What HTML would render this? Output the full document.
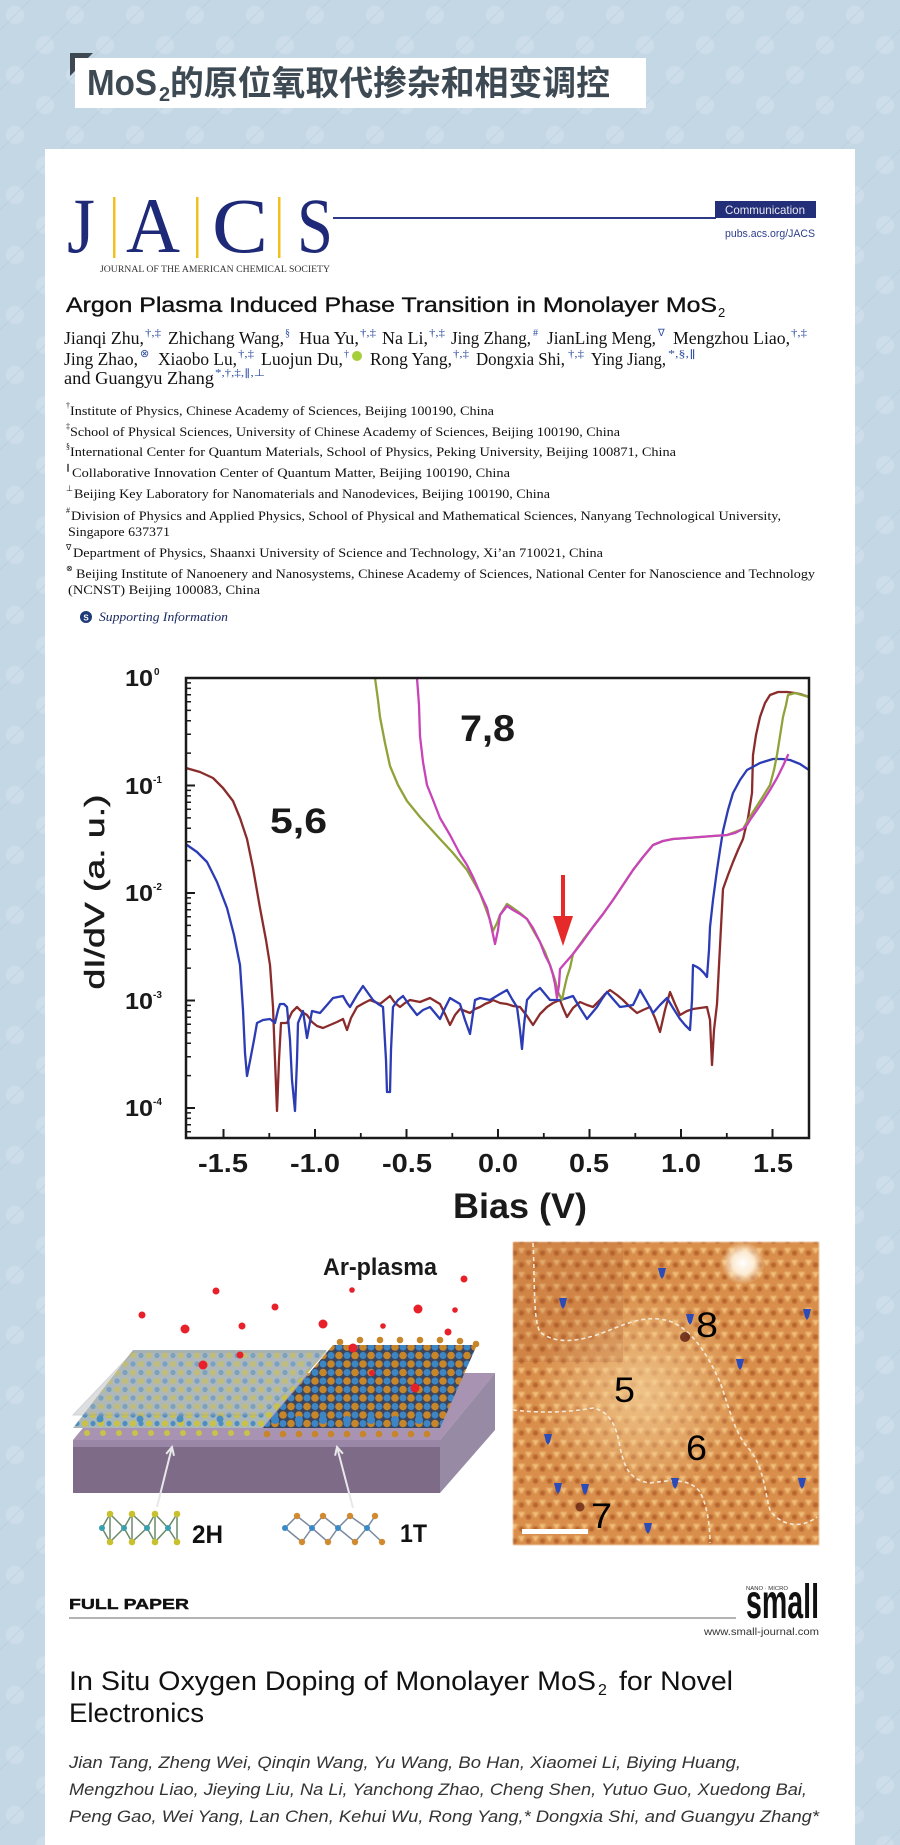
<!DOCTYPE html>
<html><head><meta charset="utf-8"><style>
html,body{margin:0;padding:0;background:#c4d7e5;}
svg{display:block;}
.s{font-family:"Liberation Sans",sans-serif;}
.sf{font-family:"Liberation Serif",serif;}
</style></head><body>
<svg width="900" height="1845" viewBox="0 0 900 1845" xmlns="http://www.w3.org/2000/svg">
<defs>
<pattern id="bg" width="60" height="60" patternUnits="userSpaceOnUse">
<rect width="60" height="60" fill="#c4d7e5"/>
<circle cx="15" cy="15" r="9" fill="#d3e2ed" opacity="0.6"/>
<circle cx="45" cy="45" r="9" fill="#d3e2ed" opacity="0.6"/>
<path d="M0 30 L30 0 M30 60 L60 30" stroke="#b6cbdb" stroke-width="1" opacity="0.6"/>
</pattern>
<pattern id="stm" width="14" height="24" patternUnits="userSpaceOnUse">
<rect width="14" height="24" fill="#d98f4c"/>
<polygon points="0,0 7,0 3.5,6" fill="#f0bd78"/>
<polygon points="7,12 14,12 10.5,18" fill="#f0bd78"/>
<circle cx="10.5" cy="5" r="2.8" fill="#b8662e"/>
<circle cx="3.5" cy="17" r="2.8" fill="#b8662e"/>
</pattern>
<radialGradient id="stmLight" cx="0.42" cy="0.5" r="0.35">
<stop offset="0" stop-color="#f6d49c" stop-opacity="0.75"/>
<stop offset="1" stop-color="#f6d49c" stop-opacity="0"/>
</radialGradient>
<radialGradient id="spot" cx="0.5" cy="0.5" r="0.5">
<stop offset="0" stop-color="#ffffff"/>
<stop offset="0.5" stop-color="#fff4e0" stop-opacity="0.9"/>
<stop offset="1" stop-color="#fbe3c0" stop-opacity="0"/>
</radialGradient>
<pattern id="lat2h" width="16" height="17" patternUnits="userSpaceOnUse" patternTransform="translate(73,1428)">
<rect width="16" height="17" fill="#a9b7b8"/>
<circle cx="4" cy="4" r="3.2" fill="#c9c24a"/>
<circle cx="12" cy="12.5" r="3.2" fill="#c9c24a"/>
<circle cx="12" cy="4" r="2.6" fill="#4a8fc0"/>
<circle cx="4" cy="12.5" r="2.6" fill="#4a8fc0"/>
</pattern>
<pattern id="lat1t" width="16" height="17" patternUnits="userSpaceOnUse" patternTransform="translate(263,1428)">
<rect width="16" height="17" fill="#3a4560"/>
<circle cx="4" cy="4" r="3.8" fill="#c8862a"/>
<circle cx="12" cy="12.5" r="3.8" fill="#c8862a"/>
<circle cx="12" cy="4" r="3.5" fill="#3d86c6"/>
<circle cx="4" cy="12.5" r="3.5" fill="#3d86c6"/>
</pattern>
<clipPath id="plotclip"><rect x="186" y="678" width="623" height="460"/></clipPath>
<filter id="blur1"><feGaussianBlur stdDeviation="0.8"/></filter>
</defs>

<!-- page background -->
<rect width="900" height="1845" fill="url(#bg)"/>

<!-- banner -->
<polygon points="70,53 93,53 70,76" fill="#3d4850"/>
<rect x="75" y="58" width="571" height="50" fill="#ffffff"/>
<text x="87" y="95" class="s" font-size="36" font-weight="bold" fill="#3e4a53" textLength="70" lengthAdjust="spacingAndGlyphs">MoS</text>
<text x="159" y="101" class="s" font-size="20" font-weight="bold" fill="#3e4a53">2</text>
<text x="170" y="95" font-family="'Liberation Sans','Noto Sans CJK SC',sans-serif" font-size="34" font-weight="bold" fill="#3e4a53" textLength="440" lengthAdjust="spacingAndGlyphs">的原位氧取代掺杂和相变调控</text>

<!-- white card -->
<rect x="45" y="149" width="810" height="1700" fill="#ffffff"/>

<!-- JACS logo -->
<g class="sf" font-size="78" fill="#1e2a78">
<text x="67" y="252" textLength="28" lengthAdjust="spacingAndGlyphs">J</text>
<text x="126" y="252" textLength="54" lengthAdjust="spacingAndGlyphs">A</text>
<text x="212" y="252" textLength="56" lengthAdjust="spacingAndGlyphs">C</text>
<text x="297" y="252" textLength="36" lengthAdjust="spacingAndGlyphs">S</text>
</g>
<rect x="113" y="197" width="2.5" height="61" fill="#f0c020"/>
<rect x="196" y="197" width="2.5" height="61" fill="#f0c020"/>
<rect x="278" y="197" width="2.5" height="61" fill="#f0c020"/>
<text x="100" y="272" class="sf" font-size="9.5" fill="#333" textLength="230" lengthAdjust="spacingAndGlyphs">JOURNAL OF THE AMERICAN CHEMICAL SOCIETY</text>
<line x1="333" y1="218" x2="716" y2="218" stroke="#2e3a85" stroke-width="2"/>
<rect x="715" y="201" width="101" height="17" fill="#232f78"/>
<text x="725" y="214" class="s" font-size="12" fill="#e8e8f0" textLength="80" lengthAdjust="spacingAndGlyphs">Communication</text>
<text x="725" y="237" class="s" font-size="11" fill="#2d3f8e" textLength="90" lengthAdjust="spacingAndGlyphs">pubs.acs.org/JACS</text>

<!-- Title -->
<text x="66" y="312" class="s" font-size="21" fill="#111" stroke="#111" stroke-width="0.35" textLength="651" lengthAdjust="spacingAndGlyphs">Argon Plasma Induced Phase Transition in Monolayer MoS</text>
<text x="718" y="317" class="s" font-size="13" fill="#111">2</text>

<!-- Authors -->
<g class="sf" font-size="18" fill="#111">
<text x="64" y="344" textLength="80" lengthAdjust="spacingAndGlyphs">Jianqi Zhu,</text>
<text x="168" y="344" textLength="116" lengthAdjust="spacingAndGlyphs">Zhichang Wang,</text>
<text x="299" y="344" textLength="60" lengthAdjust="spacingAndGlyphs">Hua Yu,</text>
<text x="382" y="344" textLength="46" lengthAdjust="spacingAndGlyphs">Na Li,</text>
<text x="451" y="344" textLength="80" lengthAdjust="spacingAndGlyphs">Jing Zhang,</text>
<text x="547" y="344" textLength="109" lengthAdjust="spacingAndGlyphs">JianLing Meng,</text>
<text x="673" y="344" textLength="117" lengthAdjust="spacingAndGlyphs">Mengzhou Liao,</text>
<text x="64" y="365" textLength="74" lengthAdjust="spacingAndGlyphs">Jing Zhao,</text>
<text x="158" y="365" textLength="79" lengthAdjust="spacingAndGlyphs">Xiaobo Lu,</text>
<text x="261" y="365" textLength="82" lengthAdjust="spacingAndGlyphs">Luojun Du,</text>
<text x="370" y="365" textLength="82" lengthAdjust="spacingAndGlyphs">Rong Yang,</text>
<text x="476" y="365" textLength="89" lengthAdjust="spacingAndGlyphs">Dongxia Shi,</text>
<text x="591" y="365" textLength="75" lengthAdjust="spacingAndGlyphs">Ying Jiang,</text>
<text x="64" y="384" textLength="150" lengthAdjust="spacingAndGlyphs">and Guangyu Zhang</text>
</g>
<g class="sf" font-size="10" fill="#2f4fa0">
<text x="145" y="336" textLength="16" lengthAdjust="spacingAndGlyphs">†,‡</text>
<text x="285" y="336">§</text>
<text x="360" y="336" textLength="16" lengthAdjust="spacingAndGlyphs">†,‡</text>
<text x="429" y="336" textLength="16" lengthAdjust="spacingAndGlyphs">†,‡</text>
<text x="533" y="336">#</text>
<text x="658" y="336">∇</text>
<text x="791" y="336" textLength="16" lengthAdjust="spacingAndGlyphs">†,‡</text>
<text x="140" y="357" font-size="11">⊗</text>
<text x="238" y="357" textLength="16" lengthAdjust="spacingAndGlyphs">†,‡</text>
<text x="344" y="357">†</text>
<text x="453" y="357" textLength="16" lengthAdjust="spacingAndGlyphs">†,‡</text>
<text x="568" y="357" textLength="16" lengthAdjust="spacingAndGlyphs">†,‡</text>
<text x="668" y="357" textLength="28" lengthAdjust="spacingAndGlyphs">*,§,∥</text>
<text x="215" y="376" textLength="50" lengthAdjust="spacingAndGlyphs">*,†,‡,∥,⊥</text>
</g>
<circle cx="357" cy="356" r="5" fill="#a6ce39"/>

<!-- Affiliations -->
<g class="sf" font-size="12.5" fill="#111">
<text x="70" y="415" textLength="424" lengthAdjust="spacingAndGlyphs">Institute of Physics, Chinese Academy of Sciences, Beijing 100190, China</text>
<text x="70" y="436" textLength="550" lengthAdjust="spacingAndGlyphs">School of Physical Sciences, University of Chinese Academy of Sciences, Beijing 100190, China</text>
<text x="70" y="456" textLength="606" lengthAdjust="spacingAndGlyphs">International Center for Quantum Materials, School of Physics, Peking University, Beijing 100871, China</text>
<text x="72" y="477" textLength="438" lengthAdjust="spacingAndGlyphs">Collaborative Innovation Center of Quantum Matter, Beijing 100190, China</text>
<text x="74" y="498" textLength="476" lengthAdjust="spacingAndGlyphs">Beijing Key Laboratory for Nanomaterials and Nanodevices, Beijing 100190, China</text>
<text x="71" y="520" textLength="710" lengthAdjust="spacingAndGlyphs">Division of Physics and Applied Physics, School of Physical and Mathematical Sciences, Nanyang Technological University,</text>
<text x="68" y="536" textLength="102" lengthAdjust="spacingAndGlyphs">Singapore 637371</text>
<text x="73" y="557" textLength="530" lengthAdjust="spacingAndGlyphs">Department of Physics, Shaanxi University of Science and Technology, Xi’an 710021, China</text>
<text x="76" y="578" textLength="739" lengthAdjust="spacingAndGlyphs">Beijing Institute of Nanoenery and Nanosystems, Chinese Academy of Sciences, National Center for Nanoscience and Technology</text>
<text x="68" y="594" textLength="192" lengthAdjust="spacingAndGlyphs">(NCNST) Beijing 100083, China</text>
</g>
<g class="sf" font-size="8" fill="#111">
<text x="66" y="408">†</text>
<text x="66" y="429">‡</text>
<text x="66" y="449">§</text>
<text x="66" y="470">∥</text>
<text x="66" y="491">⊥</text>
<text x="66" y="513">#</text>
<text x="66" y="550">∇</text>
<text x="66" y="571">⊗</text>
</g>
<circle cx="86" cy="617" r="6" fill="#1e3a78"/>
<text x="86" y="620.5" class="s" font-size="8" font-weight="bold" fill="#fff" text-anchor="middle">S</text>
<text x="99" y="621" class="sf" font-size="12.5" font-style="italic" fill="#1a2a60" textLength="129" lengthAdjust="spacingAndGlyphs">Supporting Information</text>

<!-- ============ CHART ============ -->
<g clip-path="url(#plotclip)" fill="none" stroke-width="2.3" stroke-linejoin="round" stroke-linecap="round">
<polyline stroke="#8a2c2c" points="186,768 200,772 213,778 223,788 233,801 240,818 247,839 253,868 260,908 266,940 270,965 273,1007 275,1060 277,1111 279,1060 281,1023 287,1023 292,1012 297,1007 302,1012 307,1015 312,1022 317,1026 323,1028 330,1025 337,1022 343,1019 347,1030 351,1018 357,1007 364,1003 370,1000 375,1002 380,1004 385,1000 390,996 395,1003 400,1007 405,1003 410,1000 415,1001 420,1002 425,1000 430,998 435,1001 440,1004 445,1014 450,1025 455,1015 460,1009 465,1011 470,1013 475,1009 480,1007 485,1004 490,1002 493,1000 500,1003 507,1004 513,1006 520,1007 527,1016 533,1025 540,1014 547,1007 553,1003 560,1000 563,1008 567,1017 573,1008 580,1002 587,1005 593,1007 600,1000 605,994 610,990 617,995 623,1000 630,1007 637,1013 643,1010 650,1007 655,1018 660,1032 665,1010 670,992 675,1004 680,1015 687,1011 693,1009 700,1008 707,1007 710,1020 712,1065 714,1030 717,1004 720,946 723,889 728,875 733,862 738,850 743,839 748,818 752,793 753,755 756,735 760,717 765,703 770,695 778,692 787,692 795,693 800,694 809,697"/>
<polyline stroke="#2b3cb4" points="187,845 197,852 207,862 217,882 227,908 234,935 240,965 243,1010 245,1053 247,1076 250,1061 254,1040 257,1023 263,1020 270,1019 275,1023 278,1010 280,1004 284,1004 287,1007 290,1040 292,1080 295,1111 297,1060 298,1023 303,1011 307,1038 312,1011 320,1013 327,1005 333,998 338,997 343,996 347,1003 350,1007 357,995 363,986 368,993 373,1000 378,1004 383,1007 386,1060 387,1092 390,1092 391,1050 393,1007 398,1000 403,996 410,1006 417,1015 423,1010 430,1007 435,1013 440,1019 445,1008 450,998 455,1001 460,1004 465,1020 470,1034 475,1000 480,998 490,1000 500,994 507,990 512,999 517,1007 520,1030 522,1049 524,1025 527,1000 533,993 540,988 545,994 550,1000 555,1000 560,1000 567,998 573,996 580,1008 587,1019 592,1013 597,1007 602,999 607,992 613,999 620,1007 627,1006 633,1005 637,997 640,990 647,1002 653,1013 660,1005 667,998 673,1008 680,1019 685,1025 690,1030 692,1000 693,965 697,967 700,969 704,973 707,977 709,950 710,927 713,900 717,870 720,850 723,831 728,810 733,793 740,780 747,770 760,763 773,759 782,759 790,760 800,764 809,770"/>
<polyline stroke="#8fa33a" points="375,678 378,700 380,717 385,743 390,766 398,785 407,801 420,817 440,839 453,853 467,870 480,893 490,920 493,931 497,923 500,915 507,904 513,908 520,913 527,919 533,930 540,942 545,952 550,965 555,980 558,992 562,1000 564,990 567,977 570,968 573,954 583,940 593,927 603,914 613,900 623,885 633,870 643,857 653,845 663,841 673,839 687,838 700,837 713,836 727,835 735,832 743,829 748,820 753,812 762,798 770,785 774,770 777,755 780,736 783,717 786,705 788,695 795,693 809,697"/>
<polyline stroke="#c844b8" points="417,678 419,705 420,736 423,762 427,785 433,800 440,818 450,835 460,854 467,865 473,877 480,893 487,908 491,925 495,944 498,930 500,915 507,906 513,910 520,914 527,919 533,928 540,942 545,955 550,965 553,975 555,984 557,998 559,985 560,969 566,962 573,954 583,941 593,927 603,914 613,900 623,885 633,870 643,857 653,845 663,841 673,839 687,838 700,837 713,836 727,835 735,833 743,829 747,825 750,820 757,810 763,801 770,790 777,778 783,766 788,755"/>
</g>
<!-- red arrow -->
<line x1="563" y1="875" x2="563" y2="920" stroke="#e62a2a" stroke-width="4"/>
<polygon points="553,916 573,916 563,946" fill="#e62a2a"/>
<!-- frame -->
<rect x="186" y="678" width="623" height="460" fill="none" stroke="#1a1a1a" stroke-width="2.5"/>
<!-- y ticks -->
<g stroke="#1a1a1a" stroke-width="2">
<path d="M186 678h9M186 785.5h9M186 893h9M186 1000.5h9M186 1108h9"/>
</g>
<g stroke="#1a1a1a" stroke-width="1.5">
<path d="M186 753.1h5M186 734.2h5M186 720.8h5M186 710.4h5M186 701.8h5M186 694.7h5M186 688.4h5M186 682.9h5
M186 860.6h5M186 841.7h5M186 828.3h5M186 817.9h5M186 809.3h5M186 802.2h5M186 795.9h5M186 790.4h5
M186 968.1h5M186 949.2h5M186 935.8h5M186 925.4h5M186 916.8h5M186 909.7h5M186 903.4h5M186 897.9h5
M186 1075.6h5M186 1056.7h5M186 1043.3h5M186 1032.9h5M186 1024.3h5M186 1017.2h5M186 1010.9h5M186 1005.4h5
M186 1112.9h5M186 1118.4h5M186 1124.7h5M186 1131.8h5"/>
</g>
<!-- x ticks -->
<g stroke="#1a1a1a" stroke-width="2">
<path d="M223.5 1138v-9M315 1138v-9M406.5 1138v-9M498 1138v-9M589.5 1138v-9M681 1138v-9M772.5 1138v-9"/>
<path d="M269.3 1138v-5M360.8 1138v-5M452.3 1138v-5M543.8 1138v-5M635.3 1138v-5M726.8 1138v-5" stroke-width="1.8"/>
</g>
<!-- y tick labels -->
<g class="s" font-weight="bold" fill="#1a1a1a">
<text x="125" y="686" font-size="23" textLength="28" lengthAdjust="spacingAndGlyphs">10</text><text x="154" y="675" font-size="10">0</text>
<text x="125" y="794" font-size="23" textLength="28" lengthAdjust="spacingAndGlyphs">10</text><text x="153" y="783" font-size="10">-1</text>
<text x="125" y="901" font-size="23" textLength="28" lengthAdjust="spacingAndGlyphs">10</text><text x="153" y="890" font-size="10">-2</text>
<text x="125" y="1009" font-size="23" textLength="28" lengthAdjust="spacingAndGlyphs">10</text><text x="153" y="998" font-size="10">-3</text>
<text x="125" y="1116" font-size="23" textLength="28" lengthAdjust="spacingAndGlyphs">10</text><text x="153" y="1105" font-size="10">-4</text>
</g>
<!-- x tick labels -->
<g class="s" font-weight="bold" font-size="26" fill="#1a1a1a">
<text x="198" y="1172" textLength="50" lengthAdjust="spacingAndGlyphs">-1.5</text>
<text x="290" y="1172" textLength="50" lengthAdjust="spacingAndGlyphs">-1.0</text>
<text x="382" y="1172" textLength="50" lengthAdjust="spacingAndGlyphs">-0.5</text>
<text x="478" y="1172" textLength="40" lengthAdjust="spacingAndGlyphs">0.0</text>
<text x="569" y="1172" textLength="40" lengthAdjust="spacingAndGlyphs">0.5</text>
<text x="661" y="1172" textLength="40" lengthAdjust="spacingAndGlyphs">1.0</text>
<text x="753" y="1172" textLength="40" lengthAdjust="spacingAndGlyphs">1.5</text>
</g>
<text x="453" y="1218" class="s" font-weight="bold" font-size="35" fill="#1a1a1a" textLength="134" lengthAdjust="spacingAndGlyphs">Bias (V)</text>
<text transform="translate(104,892) rotate(-90)" class="s" font-size="28" fill="#1a1a1a" stroke="#1a1a1a" stroke-width="0.5" text-anchor="middle" textLength="195" lengthAdjust="spacingAndGlyphs">dI/dV (a. u.)</text>
<text x="270" y="833" class="s" font-weight="bold" font-size="35" fill="#1a1a1a" textLength="57" lengthAdjust="spacingAndGlyphs">5,6</text>
<text x="460" y="741" class="s" font-weight="bold" font-size="37" fill="#1a1a1a" textLength="55" lengthAdjust="spacingAndGlyphs">7,8</text>

<!-- ============ ILLUSTRATION ============ -->
<!-- substrate -->
<polygon points="73,1440 440,1440 495,1373 128,1373" fill="#a893b2"/>
<rect x="73" y="1440" width="367" height="53" fill="#7e6b88"/>
<rect x="73" y="1440" width="367" height="7" fill="#9a86a6"/>
<polygon points="440,1440 495,1373 495,1430 440,1493" fill="#978aa4"/>
<!-- lattice left 2H -->
<polygon points="73,1428 262,1428 327,1350 133,1350" fill="url(#lat2h)"/>
<g fill="#c9c24a">
<circle cx="87" cy="1433" r="3"/><circle cx="103" cy="1433" r="3"/><circle cx="119" cy="1433" r="3"/><circle cx="135" cy="1433" r="3"/><circle cx="151" cy="1433" r="3"/><circle cx="167" cy="1433" r="3"/><circle cx="183" cy="1433" r="3"/><circle cx="199" cy="1433" r="3"/><circle cx="215" cy="1433" r="3"/><circle cx="231" cy="1433" r="3"/><circle cx="247" cy="1433" r="3"/>
</g>
<g fill="#4a8fc0">
<circle cx="100" cy="1419" r="3.5"/><circle cx="140" cy="1419" r="3.5"/><circle cx="180" cy="1419" r="3.5"/><circle cx="220" cy="1419" r="3.5"/>
</g>
<polygon points="73,1415 262,1415 327,1352 133,1352" fill="#b5b8bc" opacity="0.45" stroke="#9a9ea4" stroke-width="1"/>
<!-- lattice right 1T -->
<polygon points="263,1428 440,1428 477,1345 333,1345" fill="url(#lat1t)"/>
<g fill="#c8862a">
<circle cx="267" cy="1434" r="3.3"/><circle cx="283" cy="1434" r="3.3"/><circle cx="299" cy="1434" r="3.3"/><circle cx="315" cy="1434" r="3.3"/><circle cx="331" cy="1434" r="3.3"/><circle cx="347" cy="1434" r="3.3"/><circle cx="363" cy="1434" r="3.3"/><circle cx="379" cy="1434" r="3.3"/><circle cx="395" cy="1434" r="3.3"/><circle cx="411" cy="1434" r="3.3"/><circle cx="427" cy="1434" r="3.3"/>
<circle cx="340" cy="1342" r="3.3"/><circle cx="360" cy="1340" r="3.3"/><circle cx="380" cy="1340" r="3.3"/><circle cx="400" cy="1340" r="3.3"/><circle cx="420" cy="1340" r="3.3"/><circle cx="440" cy="1340" r="3.3"/><circle cx="460" cy="1341" r="3.3"/><circle cx="476" cy="1344" r="3.3"/>
</g>
<g fill="#3d86c6">
<circle cx="275" cy="1420" r="4"/><circle cx="299" cy="1420" r="4"/><circle cx="323" cy="1420" r="4"/><circle cx="347" cy="1420" r="4"/><circle cx="371" cy="1420" r="4"/><circle cx="395" cy="1420" r="4"/><circle cx="419" cy="1420" r="4"/>
</g>
<!-- red particles -->
<g fill="#e8202a">
<circle cx="142" cy="1315" r="3.5"/><circle cx="185" cy="1329" r="4.5"/><circle cx="216" cy="1291" r="3.5"/><circle cx="242" cy="1326" r="3.5"/><circle cx="275" cy="1307" r="3.5"/><circle cx="323" cy="1324" r="4.5"/><circle cx="352" cy="1290" r="2.8"/><circle cx="383" cy="1326" r="2.8"/><circle cx="418" cy="1309" r="4.5"/><circle cx="455" cy="1310" r="2.8"/><circle cx="448" cy="1332" r="3.5"/><circle cx="464" cy="1279" r="3.5"/><circle cx="353" cy="1348" r="4.5"/><circle cx="240" cy="1355" r="3.5"/><circle cx="203" cy="1365" r="4.5"/><circle cx="372" cy="1373" r="3"/><circle cx="415" cy="1388" r="4.5"/>
</g>
<text x="323" y="1275" class="s" font-weight="bold" font-size="24" fill="#1a1a1a" textLength="114" lengthAdjust="spacingAndGlyphs">Ar-plasma</text>
<!-- pointer arrows -->
<g stroke="#e8e8ea" stroke-width="2" fill="none">
<line x1="157" y1="1507" x2="172" y2="1447"/>
<polyline points="174,1455.8 172,1447 166.2,1453.8"/>
<line x1="353" y1="1508" x2="337" y2="1447"/>
<polyline points="342.9,1453.7 337,1447 335.1,1455.7"/>
</g>
<!-- 2H chain -->
<g stroke="#6a8a6a" stroke-width="1.5" fill="none">
<polyline points="102,1528 110,1514 124,1528 132,1514 147,1528 155,1514 168,1528 177,1514"/>
<polyline points="102,1528 110,1542 124,1528 132,1542 147,1528 155,1542 168,1528 177,1542"/>
<path d="M110 1514 V1542 M132 1514 V1542 M155 1514 V1542 M177 1514 V1542"/>
</g>
<g fill="#c9c030">
<circle cx="110" cy="1514" r="3.3"/><circle cx="132" cy="1514" r="3.3"/><circle cx="155" cy="1514" r="3.3"/><circle cx="177" cy="1514" r="3.3"/>
<circle cx="110" cy="1542" r="3.3"/><circle cx="132" cy="1542" r="3.3"/><circle cx="155" cy="1542" r="3.3"/><circle cx="177" cy="1542" r="3.3"/>
</g>
<g fill="#3aa0b0">
<circle cx="102" cy="1528" r="3"/><circle cx="124" cy="1528" r="3"/><circle cx="147" cy="1528" r="3"/><circle cx="168" cy="1528" r="3"/>
</g>
<text x="192" y="1543" class="s" font-weight="bold" font-size="25" fill="#111" textLength="31" lengthAdjust="spacingAndGlyphs">2H</text>
<!-- 1T chain -->
<g stroke="#7a8aa0" stroke-width="1.5" fill="none">
<polyline points="285,1528 297,1516 312,1528 323,1516 338,1528 350,1516 367,1528 375,1516"/>
<polyline points="285,1528 302,1542 312,1528 328,1542 338,1528 355,1542 367,1528 382,1542"/>
</g>
<g fill="#d08a30">
<circle cx="297" cy="1516" r="3.2"/><circle cx="323" cy="1516" r="3.2"/><circle cx="350" cy="1516" r="3.2"/><circle cx="375" cy="1516" r="3.2"/>
<circle cx="302" cy="1542" r="3.2"/><circle cx="328" cy="1542" r="3.2"/><circle cx="355" cy="1542" r="3.2"/><circle cx="382" cy="1542" r="3.2"/>
</g>
<g fill="#3a8ac8">
<circle cx="285" cy="1528" r="3"/><circle cx="312" cy="1528" r="3"/><circle cx="338" cy="1528" r="3"/><circle cx="367" cy="1528" r="3"/>
</g>
<text x="400" y="1542" class="s" font-weight="bold" font-size="25" fill="#111" textLength="27" lengthAdjust="spacingAndGlyphs">1T</text>

<!-- ============ STM IMAGE ============ -->
<g>
<rect x="513" y="1242" width="306" height="303" fill="url(#stm)" filter="url(#blur1)"/>
<rect x="513" y="1242" width="306" height="303" fill="url(#stmLight)"/>
<rect x="513" y="1242" width="110" height="120" fill="#a9552a" opacity="0.18"/>
<circle cx="743" cy="1263" r="22" fill="url(#spot)"/>
<g fill="none" stroke="#f6ead8" stroke-width="1.6" stroke-dasharray="4,3">
<path d="M533,1243 C535,1280 533,1320 540,1332 C560,1348 590,1338 610,1330 C630,1322 650,1314 672,1322 C695,1332 710,1360 720,1382 C730,1410 735,1435 750,1450 C765,1470 765,1495 770,1510 C780,1525 800,1530 817,1517"/>
<path d="M513,1410 C530,1412 560,1414 593,1408 C612,1412 617,1430 620,1447 C624,1465 628,1480 650,1483 C670,1480 690,1478 700,1492 C707,1505 710,1525 710,1543"/>
</g>
<g fill="#2a4bb8">
<polygon points="559,1298 567,1298 565,1306 563,1309 561,1306"/>
<polygon points="658,1268 666,1268 664,1276 662,1279 660,1276"/>
<polygon points="686,1314 694,1314 692,1322 690,1325 688,1322"/>
<polygon points="803,1309 811,1309 809,1317 807,1320 805,1317"/>
<polygon points="736,1359 744,1359 742,1367 740,1370 738,1367"/>
<polygon points="544,1434 552,1434 550,1442 548,1445 546,1442"/>
<polygon points="554,1483 562,1483 560,1491 558,1494 556,1491"/>
<polygon points="581,1484 589,1484 587,1492 585,1495 583,1492"/>
<polygon points="671,1478 679,1478 677,1486 675,1489 673,1486"/>
<polygon points="644,1523 652,1523 650,1531 648,1534 646,1531"/>
<polygon points="798,1478 806,1478 804,1486 802,1489 800,1486"/>
</g>
<circle cx="685" cy="1337" r="5" fill="#5a1a10" opacity="0.8"/>
<circle cx="580" cy="1507" r="4.5" fill="#5a1a10" opacity="0.7"/>
<rect x="522" y="1529" width="66" height="5" fill="#ffffff"/>
<g class="s" font-size="35" fill="#000">
<text x="696" y="1337" textLength="22" lengthAdjust="spacingAndGlyphs">8</text>
<text x="614" y="1402" textLength="21" lengthAdjust="spacingAndGlyphs">5</text>
<text x="686" y="1460" textLength="21" lengthAdjust="spacingAndGlyphs">6</text>
<text x="591" y="1528" textLength="21" lengthAdjust="spacingAndGlyphs">7</text>
</g>
</g>

<!-- ============ FULL PAPER ============ -->
<text x="69" y="1609" class="s" font-weight="bold" font-size="15" fill="#111" stroke="#111" stroke-width="0.4" textLength="120" lengthAdjust="spacingAndGlyphs">FULL PAPER</text>
<line x1="69" y1="1618" x2="736" y2="1618" stroke="#9a9a9a" stroke-width="1.5"/>
<text x="746" y="1590" class="s" font-size="5.5" fill="#333" textLength="42" lengthAdjust="spacingAndGlyphs">NANO · MICRO</text>
<text x="746" y="1618" class="s" font-weight="bold" font-size="48" fill="#111" textLength="73" lengthAdjust="spacingAndGlyphs">small</text>
<text x="704" y="1635" class="s" font-size="10" fill="#333" textLength="115" lengthAdjust="spacingAndGlyphs">www.small-journal.com</text>

<text x="69" y="1690" class="s" font-size="27" fill="#111" textLength="527" lengthAdjust="spacingAndGlyphs">In Situ Oxygen Doping of Monolayer MoS</text>
<text x="598" y="1695" class="s" font-size="16" fill="#111">2</text>
<text x="619" y="1690" class="s" font-size="27" fill="#111" textLength="114" lengthAdjust="spacingAndGlyphs">for Novel</text>
<text x="69" y="1722" class="s" font-size="27" fill="#111" textLength="135" lengthAdjust="spacingAndGlyphs">Electronics</text>

<g class="s" font-size="17" font-style="italic" fill="#333">
<text x="69" y="1768" textLength="672" lengthAdjust="spacingAndGlyphs">Jian Tang, Zheng Wei, Qinqin Wang, Yu Wang, Bo Han, Xiaomei Li, Biying Huang,</text>
<text x="69" y="1795" textLength="738" lengthAdjust="spacingAndGlyphs">Mengzhou Liao, Jieying Liu, Na Li, Yanchong Zhao, Cheng Shen, Yutuo Guo, Xuedong Bai,</text>
<text x="69" y="1822" textLength="750" lengthAdjust="spacingAndGlyphs">Peng Gao, Wei Yang, Lan Chen, Kehui Wu, Rong Yang,* Dongxia Shi, and Guangyu Zhang*</text>
</g>
</svg>
</body></html>
